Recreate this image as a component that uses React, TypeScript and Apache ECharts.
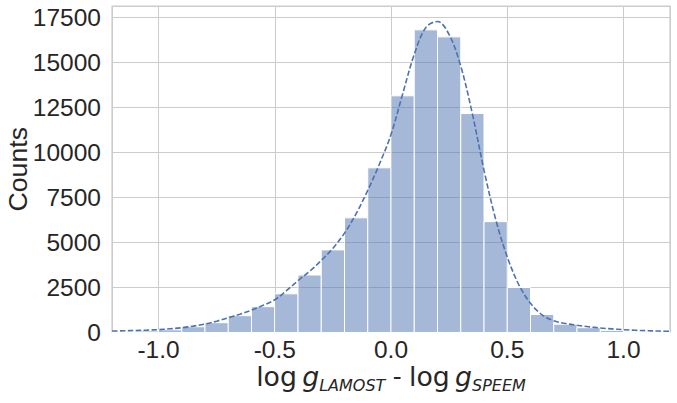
import React, { useEffect, useRef } from "react";
import * as echarts from "echarts";

// Histogram bins (left edge, right edge) and counts
const binStarts = [-1.2, -1.1, -1.0, -0.9, -0.8, -0.7, -0.6, -0.5, -0.4, -0.3, -0.2, -0.1, 0.0, 0.1, 0.2, 0.3, 0.4, 0.5, 0.6, 0.7, 0.8, 0.9, 1.0, 1.1];
const binEnds = [-1.1, -1.0, -0.9, -0.8, -0.7, -0.6, -0.5, -0.4, -0.3, -0.2, -0.1, 0.0, 0.1, 0.2, 0.3, 0.4, 0.5, 0.6, 0.7, 0.8, 0.9, 1.0, 1.1, 1.2];
const counts = [60, 90, 150, 320, 545, 935, 1435, 2150, 3195, 4590, 6370, 9150, 13150, 16815, 16425, 12165, 6160, 2500, 1000, 460, 267, 115, 60, 40];

// KDE curve (scaled to counts)
const kdeX = [-1.2, -1.15, -1.1, -1.05, -1.0, -0.95, -0.9, -0.85, -0.8, -0.75, -0.7, -0.65, -0.6, -0.55, -0.5, -0.45, -0.4, -0.35, -0.3, -0.25, -0.2, -0.15, -0.1, -0.05, 0.0, 0.05, 0.1, 0.15, 0.2, 0.25, 0.3, 0.35, 0.4, 0.45, 0.5, 0.55, 0.6, 0.65, 0.7, 0.75, 0.8, 0.85, 0.9, 0.95, 1.0, 1.05, 1.1, 1.15, 1.2];
const kdeY = [80, 95, 112, 132, 158, 205, 265, 355, 470, 630, 820, 1020, 1240, 1510, 1820, 2320, 2880, 3400, 4000, 4680, 5520, 6600, 7900, 9350, 11000, 13250, 15450, 16950, 17280, 16550, 14800, 12150, 9020, 6300, 4200, 2650, 1620, 980, 650, 500, 400, 320, 250, 200, 157, 125, 100, 80, 65];

const yTicks = [0, 2500, 5000, 7500, 10000, 12500, 15000, 17500];

const TEXT = "#262626";
const GRID = "#cccccc";
const BLUE = "#4c72b0";
const SANS = "Liberation Sans, Arial, sans-serif";

export default function App() {
  const ref = useRef<HTMLDivElement>(null);
  useEffect(() => {
    document.body.style.margin = "0";
    const chart = echarts.init(ref.current!, null, { renderer: "svg" });
    const barData = binStarts.map((s, i) => [s, binEnds[i], counts[i]]);
    const lineData = kdeX.map((x, i) => [x, kdeY[i]]);
    chart.setOption({
      animation: false,
      backgroundColor: "#ffffff",
      grid: {
        left: 112,
        right: 7,
        top: 6,
        bottom: 70.5,
        containLabel: false,
        outerBoundsMode: "none",
        show: true,
        borderColor: GRID,
        borderWidth: 1.2,
        backgroundColor: "transparent",
      },
      xAxis: {
        type: "value",
        min: -1.2,
        max: 1.2,
        splitNumber: 5,
        axisLine: { show: false },
        axisTick: { show: false },
        splitLine: { show: true, lineStyle: { color: GRID, width: 1 } },
        axisLabel: {
          showMinLabel: false,
          showMaxLabel: false,
          margin: 4,
          color: TEXT,
          fontSize: 24.5,
          fontFamily: SANS,
          formatter: (v: number) => v.toFixed(1),
        },
        name:
          "{r|log}{r|\u2009}{i|g}{s|LAMOST}{h| - }{r|log}{r|\u2009}{i|g}{s|SPEEM}",
        nameLocation: "middle",
        nameGap: 30,
        nameMoveOverlap: false,
        nameTextStyle: {
          color: TEXT,
          rich: {
            r: { fontFamily: "DejaVu Sans", fontSize: 26.7, lineHeight: 31, verticalAlign: "top", color: TEXT },
            i: { fontFamily: "DejaVu Sans", fontStyle: "italic", fontSize: 26.7, lineHeight: 31, verticalAlign: "top", color: TEXT },
            s: { fontFamily: "DejaVu Sans", fontStyle: "italic", fontSize: 16, lineHeight: 15, verticalAlign: "bottom", color: TEXT },
            h: { fontFamily: SANS, fontSize: 26.7, lineHeight: 31, verticalAlign: "top", color: TEXT },
          },
        },
      },
      yAxis: {
        type: "value",
        min: 0,
        max: 18140,
        interval: 2500,
        axisLine: { show: false },
        axisTick: { show: false },
        splitLine: { show: true, lineStyle: { color: GRID, width: 1 } },
        axisLabel: {
          showMaxLabel: false,
          margin: 11,
          color: TEXT,
          fontSize: 24.5,
          fontFamily: SANS,
          formatter: (v: number) => (yTicks.indexOf(v) >= 0 ? String(v) : ""),
        },
        name: "Counts",
        nameLocation: "middle",
        nameGap: 81,
        nameMoveOverlap: false,
        nameTextStyle: {
          color: TEXT,
          fontSize: 26.7,
          fontFamily: SANS,
        },
      },
      series: [
        {
          type: "custom",
          data: barData,
          encode: { x: [0, 1], y: 2 },
          renderItem: (params: any, api: any) => {
            const p0 = api.coord([api.value(0), api.value(2)]);
            const p1 = api.coord([api.value(1), 0]);
            return {
              type: "rect",
              shape: { x: p0[0], y: p0[1], width: p1[0] - p0[0], height: p1[1] - p0[1] },
              style: { fill: "rgba(76,114,176,0.5)", stroke: "#ffffff", lineWidth: 1 },
            };
          },
          z: 2,
        },
        {
          type: "line",
          data: lineData,
          smooth: 0.35,
          symbol: "none",
          clip: true,
          lineStyle: { color: BLUE, width: 1.6, type: [5.5, 2.4] },
          z: 3,
        },
      ],
    });
    return () => chart.dispose();
  }, []);
  return <div ref={ref} style={{ position: "fixed", left: 0, top: 0, width: 677, height: 403 }} />;
}
